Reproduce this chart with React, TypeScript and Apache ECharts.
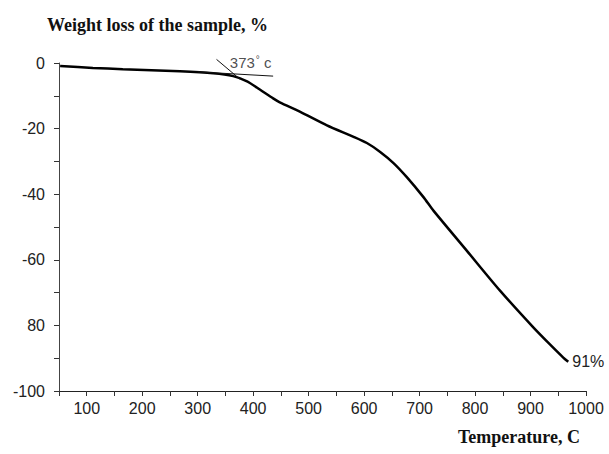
import React, { useEffect, useRef } from "react";
import * as echarts from "echarts";

// Temperature (°C) and weight loss (%)
const temps = [52, 111, 165, 268, 328, 364, 389, 412, 436, 448, 485, 533, 581, 605, 629, 653, 677, 707, 725, 785, 845, 905, 935, 959, 968];
const weights = [-0.9, -1.5, -1.9, -2.5, -3.1, -4.0, -5.6, -8.1, -10.8, -12.0, -14.9, -19.0, -22.5, -24.4, -27.1, -30.5, -34.8, -40.9, -45.0, -57.2, -69.4, -80.6, -85.8, -89.8, -91.1];

// Tangent construction lines around the onset point
const tangentSteepT = [334, 376];
const tangentSteepW = [1.1, -4.9];
const tangentFlatT = [300, 436];
const tangentFlatW = [-2.7, -4.0];

// Annotation
const onsetLabelT = [358];
const onsetLabelW = [0.15];
const onsetText = "373";
const endText = "91%";

// Axis tick labels
const xTickValues = [100, 200, 300, 400, 500, 600, 700, 800, 900, 1000];
const yTickValues = [0, -20, -40, -60, -80, -100];
const yTickLabels = ["0", "-20", "-40", "-60", "80", "-100"];

const titleText = "Weight loss of the sample, %";
const xAxisTitle = "Temperature, C";

export default function App() {
  const ref = useRef<HTMLDivElement>(null);
  useEffect(() => {
    document.body.style.margin = "0";
    if (!ref.current) return;
    const chart = echarts.init(ref.current, null, { renderer: "svg" });
    const sansFont = "'Liberation Sans', Arial, sans-serif";
    const serifFont = "'Liberation Serif', 'Times New Roman', serif";
    const pair = (a: number[], b: number[]) => a.map((v, i) => [v, b[i]]);
    chart.setOption({
      animation: false,
      backgroundColor: "#ffffff",
      title: {
        text: titleText,
        left: 42,
        top: 11,
        textStyle: { fontFamily: serifFont, fontWeight: "bold", fontSize: 18, color: "#111" },
      },
      grid: { left: 59, right: 23, top: 63, bottom: 63 },
      xAxis: {
        type: "value",
        min: 50,
        max: 1000,
        interval: 50,
        splitLine: { show: false },
        axisLine: { onZero: false, lineStyle: { color: "#222", width: 1 } },
        axisTick: { inside: false, length: 5, lineStyle: { color: "#333" } },
        axisLabel: {
          margin: 9,
          fontFamily: sansFont,
          fontSize: 16,
          color: "#222",
          formatter: (v: number) => (xTickValues.includes(v) ? String(v) : ""),
        },
      },
      yAxis: {
        type: "value",
        min: -100,
        max: 0,
        interval: 10,
        splitLine: { show: false },
        axisLine: { show: true, onZero: false, lineStyle: { color: "#444", width: 1 } },
        axisTick: { show: true, inside: false, length: 5, lineStyle: { color: "#333" } },
        axisLabel: {
          margin: 14,
          fontFamily: sansFont,
          fontSize: 16,
          color: "#222",
          formatter: (v: number) => {
            const i = yTickValues.indexOf(v);
            return i >= 0 ? yTickLabels[i] : "";
          },
        },
      },
      series: [
        {
          type: "line",
          data: pair(temps, weights),
          symbol: "none",
          smooth: 0.25,
          clip: false,
          lineStyle: { color: "#000", width: 2.5 },
          endLabel: {
            show: true,
            formatter: endText,
            fontFamily: sansFont,
            fontSize: 16,
            color: "#222",
            distance: 4,
          },
        },
        {
          type: "line",
          data: pair(tangentSteepT, tangentSteepW),
          symbol: "none",
          clip: false,
          lineStyle: { color: "#111", width: 1 },
        },
        {
          type: "line",
          data: pair(tangentFlatT, tangentFlatW),
          symbol: "none",
          clip: false,
          lineStyle: { color: "#111", width: 1 },
        },
        {
          type: "scatter",
          data: pair(onsetLabelT, onsetLabelW),
          symbolSize: 0,
          clip: false,
          label: {
            show: true,
            position: "right",
            distance: 0,
            formatter: "{a|" + onsetText + "}{b|°}{a| c}",
            rich: {
              a: { fontFamily: sansFont, fontSize: 15, color: "#222" },
              b: { fontFamily: sansFont, fontSize: 10, color: "#222", verticalAlign: "top", padding: [0, 0, 6, 1] },
            },
          },
        },
      ],
      graphic: [
        {
          type: "text",
          left: 458,
          top: 428,
          style: { text: xAxisTitle, font: "bold 18px " + serifFont, fill: "#111" },
        },
      ],
    });
    return () => chart.dispose();
  }, []);
  return <div ref={ref} style={{ width: 609, height: 454 }} />;
}
